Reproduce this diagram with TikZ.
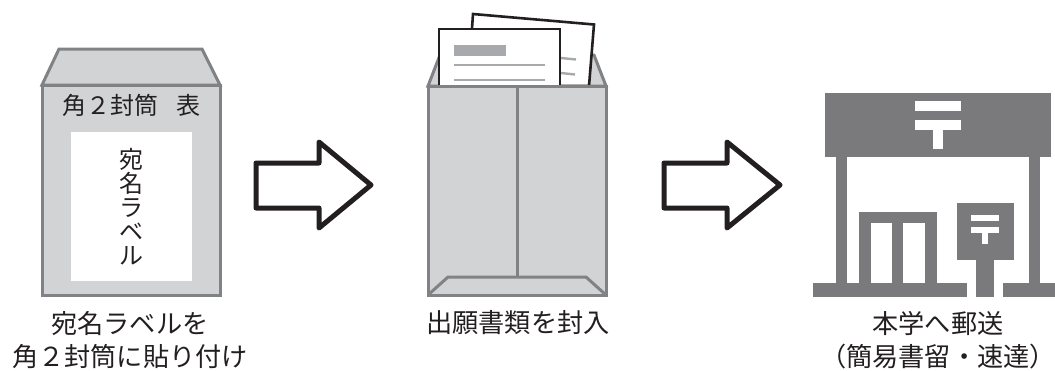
\documentclass[tikz,border=0pt]{standalone}
\usepackage{fontspec}
\setmainfont{Noto Sans CJK JP}
\usepackage{tikz}
\usetikzlibrary{positioning}
\definecolor{envfill}{HTML}{D1D3D4}
\definecolor{envline}{HTML}{808285}
\definecolor{inkblack}{HTML}{231F20}
\definecolor{postgray}{HTML}{7A797B}
\definecolor{paperline}{HTML}{A7A9AC}
\tikzstyle{envelope} = [draw=envline, fill=envfill, line width=3pt, line join=miter]
\tikzstyle{fold} = [draw=envline, line width=3pt]
\tikzstyle{paper} = [draw=inkblack, fill=white, line width=2.6pt]
\tikzstyle{rule} = [draw=paperline, line width=2.4pt]
\tikzstyle{flow} = [draw=inkblack, fill=white, line width=5pt, line join=round]
\tikzstyle{caption} = [align=center, text=inkblack, inner sep=0pt, font=\fontsize{26.2}{33}\selectfont]
\tikzstyle{labeltext} = [align=center, text=inkblack, inner sep=0pt, font=\fontsize{24}{24}\selectfont]

\begin{document}
\begin{tikzpicture}[x=1pt, y=-1pt]
    \useasboundingbox (0,0) rectangle (1055,370);

    % Front of envelope
    \draw [envelope] (42,85) -- (59,49) -- (202,49) -- (220,85) -- cycle;
    \draw [envelope] (42,85) rectangle (220,295);
    \fill [white] (71,132) rectangle (192,281);
    \node (front) [labeltext] at (131,105) {角２封筒\hspace{0.75em}表};
    \node (addr) [labeltext] at (131,207) {宛\\名\\ラ\\ベ\\ル};
    \node (cap1) [caption] at (130,340) {宛名ラベルを\\角２封筒に貼り付け};

    % First arrow
    \draw [flow] (256,163) -- (319,163) -- (319,142) -- (371,185) -- (319,228) -- (319,208) -- (256,208) -- cycle;

    % Papers going into the envelope
    \draw [envelope] (428,86) -- (440,55) -- (594,55) -- (606,86) -- cycle;
    \draw [paper] (473,14) -- (594,24.5) -- (589,86) -- (468,86) -- cycle;
    \draw [rule] (561,58) -- (576,59.5);
    \draw [rule] (561,73) -- (575,74.5);
    \draw [paper] (439,86) -- (439,29) -- (560,29) -- (560,86);
    \fill [white] (440.3,30.3) rectangle (558.7,84);
    \fill [paperline] (454,45) rectangle (506,56);
    \draw [rule] (454,65) -- (545,65);
    \draw [rule] (454,80) -- (545,80);

    % Back of envelope
    \draw [envelope] (428,86) rectangle (606,295);
    \draw [fold] (517,86) -- (517,277);
    \draw [fold] (428,295) -- (448,277) -- (586,277) -- (606,295);
    \node (cap2) [caption] at (518,323) {出願書類を封入};

    % Second arrow
    \draw [flow] (664,163) -- (727,163) -- (727,142) -- (780,185) -- (727,228) -- (727,208) -- (664,208) -- cycle;

    % Post office
    \fill [postgray] (825,93) rectangle (1051,157);
    \fill [white] (915,101) rectangle (961,111);
    \fill [white] (915,120) rectangle (961,130);
    \fill [white] (933,130) rectangle (943,149);
    \fill [postgray] (836,157) rectangle (847,283);
    \fill [postgray] (1029,157) rectangle (1040,283);
    \fill [postgray] (813,283) rectangle (967,297);
    \fill [postgray] (1003,283) rectangle (1055,297);
    \fill [postgray] (859,212) rectangle (937,283);
    \fill [white] (871,223) rectangle (892,283);
    \fill [white] (903,223) rectangle (925,283);

    % Post box
    \fill [postgray] (957,203) rectangle (1014,260);
    \fill [postgray] (976,260) rectangle (994,297);
    \fill [white] (971,215) rectangle (999,221);
    \fill [white] (971,227) rectangle (999,233);
    \fill [white] (982,233) rectangle (988,244);
    \node (cap3) [caption] at (938,340) {本学へ郵送\\（簡易書留・速達）};
\end{tikzpicture}
\end{document}
